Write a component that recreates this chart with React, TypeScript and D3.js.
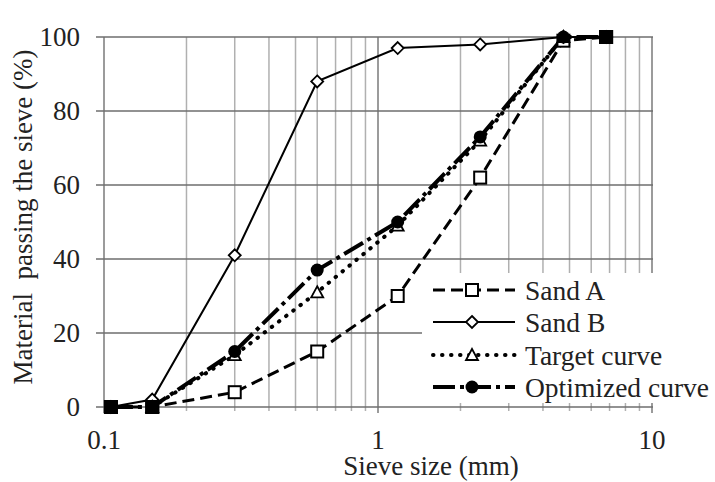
import React from "react";
import * as d3 from "d3";

const sieveSizes = [0.106, 0.15, 0.3, 0.6, 1.18, 2.36, 4.75, 6.8];
const sandA = [0, 0, 4, 15, 30, 62, 99, 100];
const sandB = [0, 2, 41, 88, 97, 98, 100, 100];
const targetSizes = [0.15, 0.3, 0.6, 1.18, 2.36, 4.75];
const target = [0, 14, 31, 49, 72, 100];
const optimized = [0, 0, 15, 37, 50, 73, 100, 100];
const coincidentSizes = [0.106, 0.15, 6.8];
const coincidentValues = [0, 0, 100];
const yTicks = [0, 20, 40, 60, 80, 100];
const xTickLabels = ["0.1", "1", "10"];
const seriesNames = ["Sand A", "Sand B", "Target curve", "Optimized curve"];

const W = 715;
const H = 482;
const FONT = "'Liberation Serif', 'Times New Roman', serif";

export default function App() {
  const x = d3.scaleLog().domain([0.1, 10]).range([104, 652]);
  const y = d3.scaleLinear().domain([0, 100]).range([407, 37]);

  const minor: number[] = [];
  [0.1, 1].forEach((b) => {
    for (let k = 2; k <= 9; k++) minor.push(b * k);
  });
  const major = [0.1, 1, 10];

  const line = d3
    .line<[number, number]>()
    .x((d) => x(d[0]))
    .y((d) => y(d[1]));

  const pts = (xs: number[], ys: number[]) =>
    xs.map((v, i) => [v, ys[i]] as [number, number]);

  const styles = [
    { dash: "12,6", width: 3, marker: "square", cap: "butt" },
    { dash: "", width: 2, marker: "diamond", cap: "butt" },
    { dash: "0.5,8.5", width: 4, marker: "triangle", cap: "round" },
    { dash: "22,5,4,5", width: 4, marker: "circle", cap: "butt" },
  ];

  const marker = (kind: string, cx: number, cy: number, key: string) => {
    if (kind === "square")
      return (
        <rect key={key} x={cx - 6} y={cy - 6} width={12} height={12} fill="#fff" stroke="#000" strokeWidth={2} />
      );
    if (kind === "diamond")
      return (
        <path key={key} d={`M${cx},${cy - 6}L${cx + 6},${cy}L${cx},${cy + 6}L${cx - 6},${cy}Z`} fill="#fff" stroke="#000" strokeWidth={1.8} />
      );
    if (kind === "triangle")
      return (
        <path key={key} d={`M${cx},${cy - 6}L${cx + 6},${cy + 5}L${cx - 6},${cy + 5}Z`} fill="#fff" stroke="#000" strokeWidth={1.8} />
      );
    return <circle key={key} cx={cx} cy={cy} r={6.5} fill="#000" />;
  };

  const seriesData = [
    pts(sieveSizes, sandA),
    pts(sieveSizes, sandB),
    pts(targetSizes, target),
    pts(sieveSizes, optimized),
  ];

  const legendRows = [290, 322, 355, 387];

  return (
    <svg width={W} height={H} style={{ position: "absolute", left: 0, top: 0, background: "#fff" }} fontFamily={FONT}>
      <rect x={0} y={0} width={W} height={H} fill="#fff" />
      {minor.map((v) => (
        <line key={"mn" + v} x1={x(v)} x2={x(v)} y1={y(100)} y2={y(0) + 4} stroke="#b0b0b0" strokeWidth={1.5} />
      ))}
      {major.map((v) => (
        <line key={"mj" + v} x1={x(v)} x2={x(v)} y1={y(100)} y2={y(0) + 6} stroke="#7a7a7a" strokeWidth={1.5} />
      ))}
      {yTicks.map((t) => (
        <line key={"h" + t} x1={96} x2={653} y1={y(t)} y2={y(t)} stroke="#6e6e6e" strokeWidth={1.5} />
      ))}
      {yTicks.map((t) => (
        <text key={"yl" + t} x={80} y={y(t)} textAnchor="end" dominantBaseline="central" fontSize={27} fill="#222">
          {t}
        </text>
      ))}
      {major.map((v, i) => (
        <text key={"xl" + v} x={x(v)} y={449} textAnchor="middle" fontSize={27} fill="#222">
          {xTickLabels[i]}
        </text>
      ))}
      <text x={431} y={475} textAnchor="middle" fontSize={27} fill="#222">
        Sieve size (mm)
      </text>
      <text
        transform={`translate(32,217) rotate(-90)`}
        textAnchor="middle"
        fontSize={27}
        fill="#222"
        style={{ whiteSpace: "pre" }}
      >
        {"Material  passing the sieve (%)"}
      </text>

      <rect x={422} y={273} width={293} height={130} fill="#fff" />

      {seriesData.map((d, i) => (
        <path
          key={"s" + i}
          d={line(d) || ""}
          fill="none"
          stroke="#000"
          strokeWidth={styles[i].width}
          strokeDasharray={styles[i].dash || undefined}
          strokeLinecap={styles[i].cap as any}
        />
      ))}
      {seriesData.map((d, i) =>
        d.map((p, j) => marker(styles[i].marker, x(p[0]), y(p[1]), `m${i}-${j}`))
      )}
      {coincidentSizes.map((v, i) => (
        <rect key={"c" + i} x={x(v) - 7} y={y(coincidentValues[i]) - 7} width={14} height={14} fill="#000" />
      ))}

      {seriesNames.map((name, i) => (
        <g key={"lg" + i}>
          <line
            x1={433}
            x2={515}
            y1={legendRows[i]}
            y2={legendRows[i]}
            stroke="#000"
            strokeWidth={styles[i].width}
            strokeDasharray={styles[i].dash || undefined}
            strokeLinecap={styles[i].cap as any}
          />
          {marker(styles[i].marker, 472, legendRows[i], "lm" + i)}
          <text x={525} y={legendRows[i]} dominantBaseline="central" fontSize={27.5} fill="#222">
            {name}
          </text>
        </g>
      ))}
    </svg>
  );
}
